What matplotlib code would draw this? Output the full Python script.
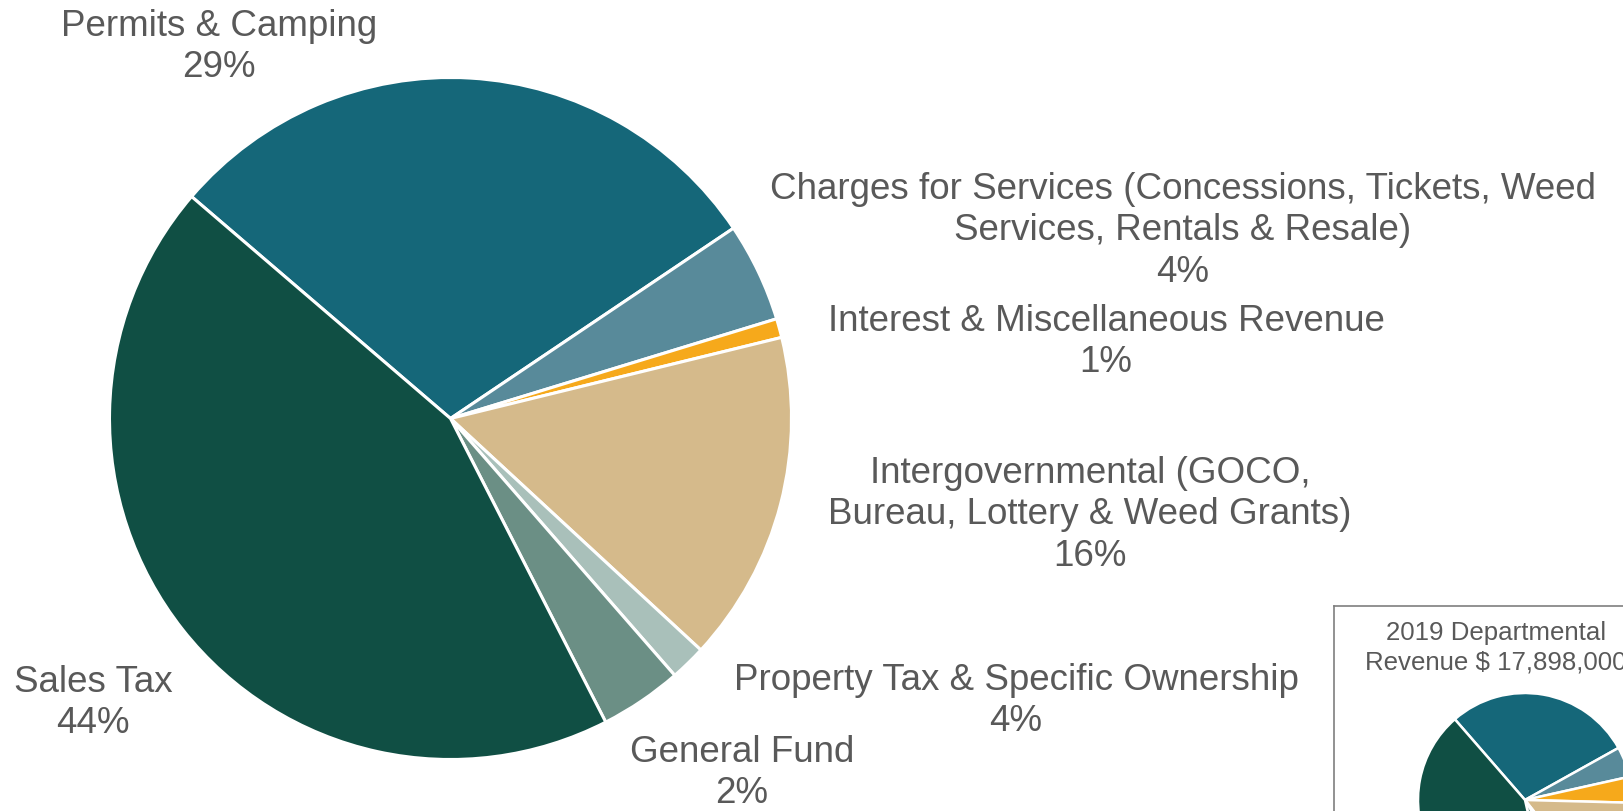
import matplotlib
matplotlib.use("Agg")
import matplotlib.pyplot as plt

plt.rcParams['font.family'] = ['Liberation Sans', 'DejaVu Sans']

# ---- data ----
categories = ["Permits & Camping",
              "Charges for Services (Concessions, Tickets, Weed\nServices, Rentals & Resale)",
              "Interest & Miscellaneous Revenue",
              "Intergovernmental (GOCO,\nBureau, Lottery & Weed Grants)",
              "General Fund",
              "Property Tax & Specific Ownership",
              "Sales Tax"]
values = [29.3, 4.7, 0.9, 15.7, 1.7, 3.9, 43.8]
pct_labels = ["29%", "4%", "1%", "16%", "2%", "4%", "44%"]
inset_values = [28.3, 4.6, 3.9, 14.0, 2.0, 5.0, 42.2]
inset_title = "2019 Departmental\nRevenue $ 17,898,000"

colors = ["#156779", "#588A9A", "#F6A91B", "#D5BA8B", "#A9C0BA", "#6B8F85", "#104F44"]
text_color = "#595959"

W, H = 1624, 811
fig = plt.figure(figsize=(W / 100, H / 100), dpi=100)


def px_axes(cx, cy, r):
    return fig.add_axes([(cx - r) / W, (H - cy - r) / H, 2 * r / W, 2 * r / H])


# ---- main pie ----
ax = px_axes(450.5, 418.5, 341)
ax.pie(values, colors=colors, startangle=139.4, counterclock=False,
       wedgeprops=dict(edgecolor="white", linewidth=2.2))
ax.set_xlim(-1, 1)
ax.set_ylim(-1, 1)
ax.set_aspect("equal")
ax.axis("off")

# label block centres (pixel positions)
label_pos = [(219, 47), (1183, 231), (1106, 342), (1090, 515),
             (742, 773), (1016, 701), (93, 703)]
for cat, pct, (x, y) in zip(categories, pct_labels, label_pos):
    fig.text(x / W, 1 - y / H, f"{cat}\n{pct}", ha="center", va="center",
             fontsize=26.5, color=text_color, linespacing=1.24)

# ---- inset box ----
box = fig.add_axes([1334 / W, (H - 606 - 300) / H, 400 / W, 300 / H])
box.set_xticks([])
box.set_yticks([])
for s in box.spines.values():
    s.set_color("#7F7F7F")
    s.set_linewidth(1.2)
box.patch.set_facecolor("white")

fig.text(1496 / W, 1 - 648 / H, inset_title, ha="center", va="center",
         fontsize=18.6, color=text_color, linespacing=1.28)

iax = px_axes(1525, 800, 107)
iax.pie(inset_values, colors=colors, startangle=131, counterclock=False,
        wedgeprops=dict(edgecolor="white", linewidth=1.8))
iax.set_xlim(-1, 1)
iax.set_ylim(-1, 1)
iax.set_aspect("equal")
iax.axis("off")

fig.savefig("out.png", dpi=100)
